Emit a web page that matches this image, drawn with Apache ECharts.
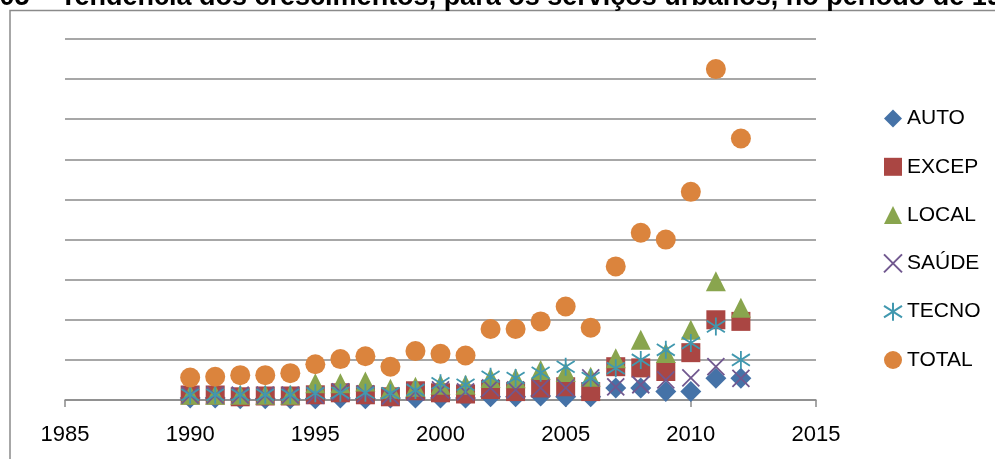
<!DOCTYPE html>
<html>
<head>
    <title>Tendência dos crescimentos</title>
    <meta charset="utf-8">
    <script src="https://cdn.jsdelivr.net/npm/echarts@6/dist/echarts.min.js"></script>
    <style>
        html, body { margin: 0; padding: 0; background: #fff; }
    </style>
</head>
<body>
    <div id="main" style="width: 995px;height:459px;"></div>

    <script type="text/javascript">
        // years on the x axis
        var years = [1990, 1991, 1992, 1993, 1994, 1995, 1996, 1997, 1998, 1999, 2000, 2001,
                     2002, 2003, 2004, 2005, 2006, 2007, 2008, 2009, 2010, 2011, 2012];

        // values (one grid step = 10)
        var auto  = [0.5, 0.5, 0.3, 0.3, 0.3, 0.3, 0.5, 0.3, 0.5, 0.5, 0.5, 0.5,
                     0.8, 0.8, 1.0, 0.8, 0.8, 3.0, 3.0, 2.1, 2.1, 5.4, 5.4];
        var excep = [1.25, 1.25, 0.8, 1.0, 1.0, 1.3, 1.8, 1.3, 0.8, 2.3, 1.8, 1.5,
                     2.6, 2.1, 3.0, 3.3, 2.1, 8.3, 8.0, 7.1, 11.8, 20.0, 19.6];
        var local = [1.3, 1.3, 1.3, 1.3, 1.3, 4.2, 4.2, 4.6, 2.8, 3.3, 3.8, 3.8,
                     5.5, 5.4, 7.5, 7.0, 5.8, 10.4, 15.0, 11.7, 17.5, 29.6, 23.0];
        var saude = [1.2, 1.2, 1.2, 1.2, 1.2, 1.2, 2.0, 1.5, 1.0, 2.0, 2.5, 2.0,
                     3.0, 2.5, 3.0, 3.0, 5.5, 3.3, 3.8, 5.0, 5.5, 8.3, 5.4];
        var tecno = [1.3, 1.3, 1.3, 1.3, 1.3, 1.7, 1.8, 1.8, 1.7, 2.5, 4.2, 3.8,
                     5.8, 5.5, 6.8, 8.3, 5.5, 7.9, 10.0, 12.5, 14.2, 18.3, 10.0];
        var total = [5.6, 5.8, 6.2, 6.2, 6.7, 8.9, 10.2, 10.9, 8.3, 12.2, 11.5, 11.1,
                     17.7, 17.7, 19.6, 23.3, 18.0, 33.3, 41.7, 40.0, 51.9, 82.5, 65.2];

        var xTicks = [1985, 1990, 1995, 2000, 2005, 2010, 2015];

        function pairs(vals) {
            return years.map(function (y, i) { return [y, vals[i]]; });
        }

        var fontName = '"Liberation Sans", Arial, sans-serif';
        var crossPath = 'path://M0,0L10,10M10,0L0,10';
        var starPath = 'path://M5,0L5,10M0,1.8L10,8.2M0,8.2L10,1.8';

        var myChart = echarts.init(document.getElementById('main'));

        var option = {
            animation: false,
            graphic: [{
                type: 'rect',
                shape: { x: 10, y: 10.5, width: 1000, height: 500 },
                style: { fill: 'none', stroke: '#8a8a8a', lineWidth: 1.5 },
                silent: true
            }, {
                type: 'text',
                x: 52, y: 11,
                style: {
                    text: 'Gráfico 05 –',
                    font: 'bold 27px ' + fontName,
                    fill: '#000',
                    align: 'right',
                    verticalAlign: 'bottom'
                }
            }, {
                type: 'text',
                x: 60, y: 11,
                style: {
                    text: 'Tendência dos crescimentos, para os serviços urbanos, no período de 1990 a 2012',
                    font: 'bold 27px ' + fontName,
                    fill: '#000',
                    align: 'left',
                    verticalAlign: 'bottom'
                }
            }],
            legend: {
                orient: 'vertical',
                left: 878,
                top: 103,
                itemWidth: 18,
                itemHeight: 18,
                itemGap: 27.3,
                textStyle: { fontFamily: fontName, fontSize: 21, color: '#000', lineHeight: 20 },
                data: ['AUTO', 'EXCEP', 'LOCAL', 'SAÚDE', 'TECNO', 'TOTAL']
            },
            grid: {
                left: 65,
                right: 179,
                top: 39,
                bottom: 59
            },
            xAxis: {
                type: 'value',
                min: 1985,
                max: 2015,
                interval: 5,
                axisLine: { show: true, lineStyle: { color: '#8a8a8a', width: 1.5 } },
                axisTick: { show: true, length: 7, lineStyle: { color: '#8a8a8a', width: 1.5 } },
                axisLabel: {
                    fontFamily: fontName, fontSize: 22, color: '#000', margin: 24,
                    formatter: function (v) { return xTicks.indexOf(v) >= 0 ? String(v) : ''; }
                },
                splitLine: { show: false }
            },
            yAxis: {
                type: 'value',
                min: 0,
                max: 90,
                interval: 10,
                axisLine: { show: false },
                axisTick: { show: false },
                axisLabel: { show: false },
                splitLine: { show: true, lineStyle: { color: '#8a8a8a', width: 1.5 } }
            },
            series: [{
                name: 'AUTO',
                type: 'scatter',
                symbol: 'diamond',
                symbolSize: 21,
                itemStyle: { color: '#4572A7', opacity: 1 },
                data: pairs(auto)
            }, {
                name: 'EXCEP',
                type: 'scatter',
                symbol: 'rect',
                symbolSize: 19,
                itemStyle: { color: '#AA4643', opacity: 1 },
                data: pairs(excep)
            }, {
                name: 'LOCAL',
                type: 'scatter',
                symbol: 'triangle',
                symbolSize: 20,
                itemStyle: { color: '#89A54E', opacity: 1 },
                data: pairs(local)
            }, {
                name: 'SAÚDE',
                type: 'scatter',
                symbol: crossPath,
                symbolSize: 17,
                itemStyle: { color: 'rgba(0,0,0,0)', borderColor: '#71588F', borderWidth: 1.8, opacity: 1 },
                data: pairs(saude)
            }, {
                name: 'TECNO',
                type: 'scatter',
                symbol: starPath,
                symbolSize: 18,
                itemStyle: { color: 'rgba(0,0,0,0)', borderColor: '#4198AF', borderWidth: 1.8, opacity: 1 },
                data: pairs(tecno)
            }, {
                name: 'TOTAL',
                type: 'scatter',
                symbol: 'circle',
                symbolSize: 20,
                itemStyle: { color: '#DB843D', opacity: 1 },
                data: pairs(total)
            }]
        };

        myChart.setOption(option);
    </script>
</body>
</html>
